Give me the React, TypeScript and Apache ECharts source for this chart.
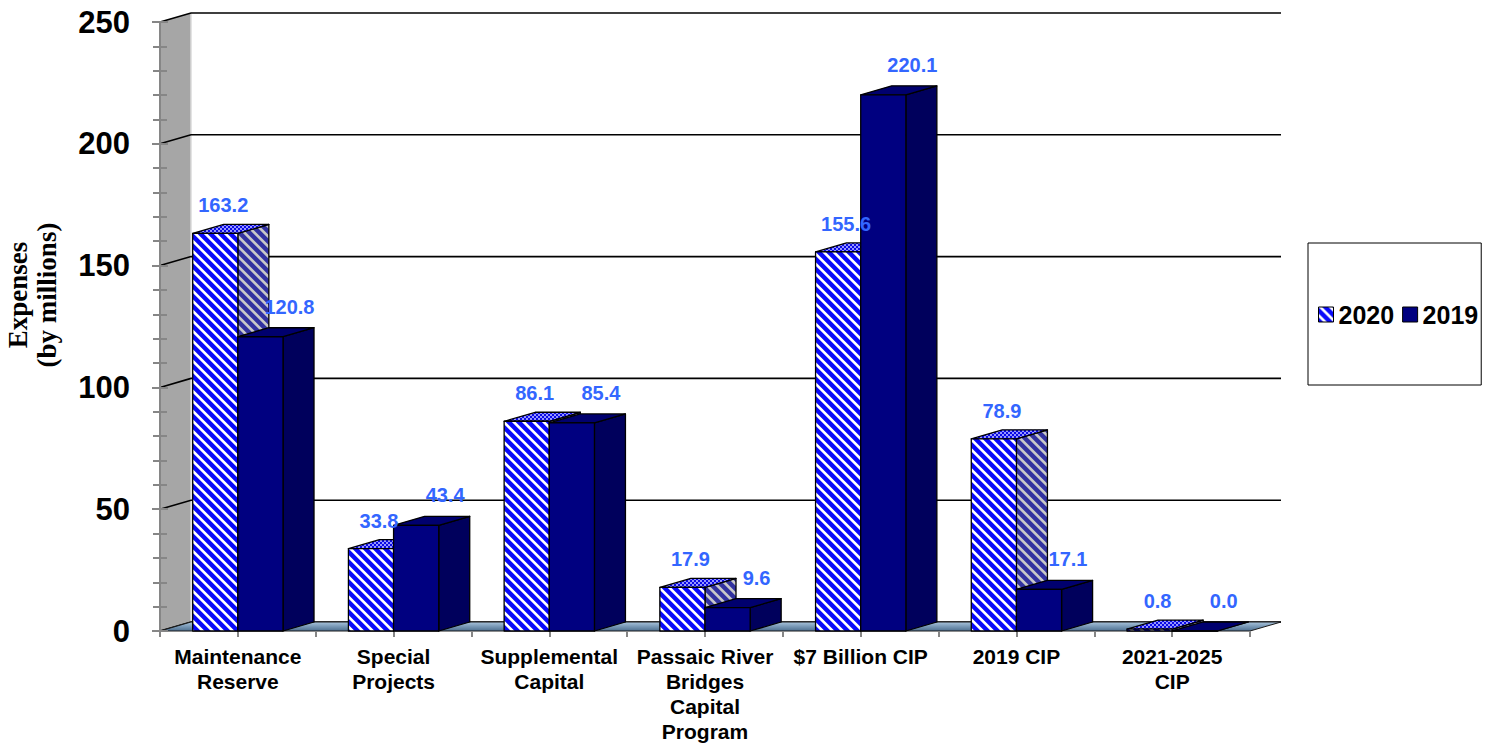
import React, { useEffect, useRef } from "react";
import * as echarts from "echarts";

// ---------- data ----------
const categories = [
  "Maintenance\nReserve",
  "Special\nProjects",
  "Supplemental\nCapital",
  "Passaic River\nBridges\nCapital\nProgram",
  "$7 Billion CIP",
  "2019 CIP",
  "2021-2025\nCIP",
];
const values2020 = [163.2, 33.8, 86.1, 17.9, 155.6, 78.9, 0.8];
const values2019 = [120.8, 43.4, 85.4, 9.6, 220.1, 17.1, 0.0];
const seriesNames = ["2020", "2019"];
const yTickValues = [0, 50, 100, 150, 200, 250];
const axisTitle = "Expenses\n(by millions)";

// ---------- layout / style constants ----------
const FONT = '"Liberation Sans", Arial, sans-serif';
const DX = 31; // 3D depth offset (px)
const DY = -9;
const BAR_FRAC = 0.29; // bar width as fraction of category band
const LABEL_DX = [8, 29];
const LABEL_DY = [-28, -30];

function makeTile(
  size: number,
  fn: (x: number, y: number) => number,
  c1: number[],
  c2: number[]
): string {
  const cv = document.createElement("canvas");
  cv.width = size;
  cv.height = size;
  const ctx = cv.getContext("2d")!;
  const img = ctx.createImageData(size, size);
  const S = 4;
  for (let y = 0; y < size; y++) {
    for (let x = 0; x < size; x++) {
      let f = 0;
      for (let j = 0; j < S; j++)
        for (let i = 0; i < S; i++) f += fn(x + (i + 0.5) / S, y + (j + 0.5) / S);
      f /= S * S;
      const k = (y * size + x) * 4;
      img.data[k] = Math.round(c1[0] * (1 - f) + c2[0] * f);
      img.data[k + 1] = Math.round(c1[1] * (1 - f) + c2[1] * f);
      img.data[k + 2] = Math.round(c1[2] * (1 - f) + c2[2] * f);
      img.data[k + 3] = 255;
    }
  }
  ctx.putImageData(img, 0, 0);
  return cv.toDataURL();
}

export default function App() {
  const ref = useRef<HTMLDivElement>(null);

  useEffect(() => {
    const chart = echarts.init(ref.current!, undefined, { renderer: "svg" });

    const P = 10;
    const stripe = (x: number, y: number) => {
      const t = (((x - y) % P) + P) % P;
      return t < P * 0.36 ? 1 : 0;
    };
    const check = (x: number, y: number) =>
      (Math.floor(x / 2) + Math.floor(y / 2)) % 2 === 0 ? 1 : 0;

    const frontPat = {
      image: makeTile(P, stripe, [10, 10, 250], [255, 255, 255]),
      repeat: "repeat",
      imageWidth: P,
      imageHeight: P,
    };
    const sidePat = {
      image: makeTile(P, stripe, [50, 50, 160], [200, 200, 200]),
      repeat: "repeat",
      imageWidth: P,
      imageHeight: P,
    };
    const topPat = {
      image: makeTile(4, check, [10, 10, 230], [150, 150, 255]),
      repeat: "repeat",
      imageWidth: 4,
      imageHeight: 4,
    };

    const frontFill = [frontPat, "#000080"];
    const sideFill = [sidePat, "#00005c"];
    const topFill = [topPat, "#00006e"];

    const barRender = (si: number) => (params: any, api: any) => {
      const cat = api.value(0);
      const val = api.value(1);
      const top = api.coord([cat, val]);
      const base = api.coord([cat, 0]);
      const band = api.size([1, 0])[0];
      const w = band * BAR_FRAC;
      const x0 = si === 0 ? top[0] - w : top[0];
      const x1 = x0 + w;
      const yT = top[1];
      const yB = base[1];
      const st = { stroke: "#000", lineWidth: 1.3, lineJoin: "round" };
      return {
        type: "group",
        children: [
          {
            type: "polygon",
            shape: { points: [[x1, yT], [x1 + DX, yT + DY], [x1 + DX, yB + DY], [x1, yB]] },
            style: { ...st, fill: sideFill[si] },
          },
          {
            type: "polygon",
            shape: { points: [[x0, yT], [x0 + DX, yT + DY], [x1 + DX, yT + DY], [x1, yT]] },
            style: { ...st, fill: topFill[si] },
          },
          {
            type: "rect",
            shape: { x: x0, y: yT, width: w, height: Math.max(0, yB - yT) },
            style: { ...st, fill: frontFill[si] },
          },
          {
            type: "text",
            z2: 100,
            x: (x0 + x1) / 2 + LABEL_DX[si],
            y: yT + LABEL_DY[si],
            style: {
              text: val.toFixed(1),
              fill: "#3366FF",
              fontSize: 20,
              fontWeight: "bold",
              fontFamily: FONT,
              align: "center",
              verticalAlign: "middle",
            },
          },
        ],
      };
    };

    const decoRender = (params: any, api: any) => {
      const cs = params.coordSys;
      const L = cs.x;
      const R = cs.x + cs.width;
      const T = cs.y;
      const B = cs.y + cs.height;
      const v = api.value(1);
      const y = api.coord([0, v])[1];
      const line = {
        type: "polyline",
        z2: 1,
        shape: { points: [[L, y], [L + DX, y + DY], [R + DX, y + DY]] },
        style: { stroke: "#000", lineWidth: 1.6, fill: null },
      };
      if (params.dataIndex !== 0) return line;
      return {
        type: "group",
        children: [
          {
            type: "polygon",
            z2: 0,
            shape: { points: [[L, T], [L + DX, T + DY], [L + DX, B + DY], [L, B]] },
            style: { fill: "#a6a6a6" },
          },
          {
            type: "line",
            z2: 0,
            shape: { x1: L + DX, y1: T + DY, x2: L + DX, y2: B + DY },
            style: { stroke: "#dadada", lineWidth: 1.5 },
          },
          line,
          {
            type: "polygon",
            z2: 2,
            shape: { points: [[L, B], [L + DX, B + DY], [R + DX, B + DY], [R, B]] },
            style: {
              fill: new echarts.graphic.LinearGradient(0, 0, 0, 1, [
                { offset: 0, color: "#a9c4dc" },
                { offset: 0.5, color: "#7898b6" },
                { offset: 1, color: "#4d6e8e" },
              ]),
              stroke: "#1a1a1a",
              lineWidth: 1,
            },
          },
        ],
      };
    };

    const tickStyle = { color: "#868686", width: 2 };

    const option: any = {
      animation: false,
      backgroundColor: "#fff",
      grid: { left: 160, top: 22, width: 1090, height: 610, containLabel: false },
      xAxis: [
        {
          type: "category",
          data: categories,
          axisLine: { show: false },
          axisTick: { show: true, length: 6, lineStyle: tickStyle },
          axisLabel: {
            interval: 0,
            margin: 13,
            fontSize: 21,
            lineHeight: 25,
            fontWeight: "bold",
            fontFamily: FONT,
            color: "#000",
          },
          splitLine: { show: false },
        },
        {
          type: "category",
          data: categories,
          position: "bottom",
          axisLine: { show: false },
          axisTick: { show: true, alignWithLabel: true, length: 6, lineStyle: tickStyle },
          axisLabel: { show: false },
          splitLine: { show: false },
        },
      ],
      yAxis: [
        {
          type: "value",
          position: "left",
          min: 0,
          max: 250,
          interval: 50,
          z: 5,
          axisLine: { show: true, lineStyle: tickStyle },
          axisTick: { show: true, length: 8, lineStyle: tickStyle },
          minorTick: { show: true, splitNumber: 5, length: 7, lineStyle: tickStyle },
          splitLine: { show: false },
          axisLabel: {
            margin: 30,
            fontSize: 31,
            fontWeight: "bold",
            fontFamily: FONT,
            color: "#000",
          },
        },
        {
          type: "value",
          position: "left",
          offset: 0,
          min: 0,
          max: 250,
          interval: 50,
          z: 5,
          axisLine: { show: false },
          axisTick: { show: true, inside: true, length: 8, lineStyle: tickStyle },
          minorTick: { show: true, splitNumber: 5, length: 7, lineStyle: tickStyle },
          splitLine: { show: false },
          axisLabel: { show: false },
        },
      ],
      legend: {
        left: 1308,
        top: 243,
        orient: "horizontal",
        padding: [59, 3, 58, 10],
        itemWidth: 15,
        itemHeight: 15,
        itemGap: 8,
        borderColor: "#000",
        borderWidth: 1,
        backgroundColor: "#fff",
        icon: "rect",
        selectedMode: false,
        textStyle: { fontSize: 25, fontWeight: "bold", fontFamily: FONT, color: "#000" },
        data: [
          { name: seriesNames[0], itemStyle: { color: frontPat, borderColor: "#000", borderWidth: 1 } },
          { name: seriesNames[1], itemStyle: { color: "#000080", borderColor: "#000", borderWidth: 1 } },
        ],
      },
      graphic: [
        {
          type: "text",
          x: 32,
          y: 295,
          rotation: Math.PI / 2,
          style: {
            text: axisTitle,
            fontSize: 27,
            fontWeight: "bold",
            fontFamily: '"Liberation Serif", "Times New Roman", serif',
            lineHeight: 29,
            fill: "#000",
            align: "center",
            verticalAlign: "middle",
          },
        },
      ],
      series: [
        {
          type: "custom",
          name: "deco",
          silent: true,
          z: -1,
          renderItem: decoRender,
          encode: { x: 0, y: 1 },
          data: yTickValues.map((v) => [0, v]),
        },
        {
          type: "custom",
          name: seriesNames[0],
          z: 2,
          renderItem: barRender(0),
          encode: { x: 0, y: 1 },
          itemStyle: { color: "#0000ff" },
          data: values2020.map((v, i) => [i, v]),
        },
        {
          type: "custom",
          name: seriesNames[1],
          z: 2,
          renderItem: barRender(1),
          encode: { x: 0, y: 1 },
          itemStyle: { color: "#000080" },
          data: values2019.map((v, i) => [i, v]),
        },
      ],
    };

    chart.setOption(option);
    return () => chart.dispose();
  }, []);

  return (
    <div
      ref={ref}
      style={{ position: "fixed", left: 0, top: 0, width: 1498, height: 744, background: "#fff" }}
    />
  );
}
